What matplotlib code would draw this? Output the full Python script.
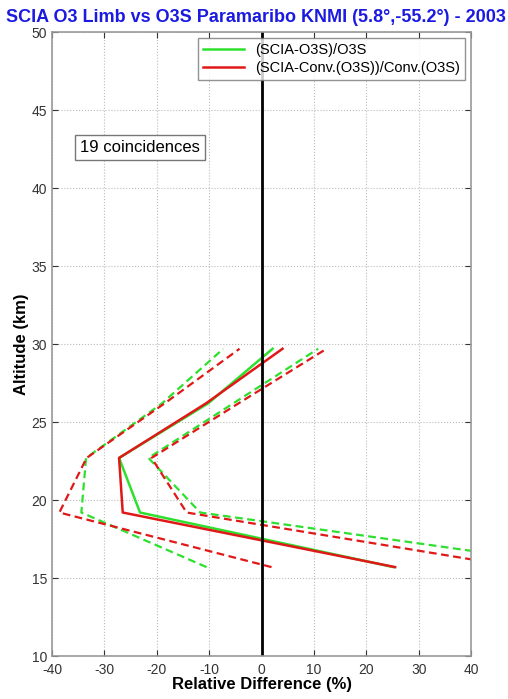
import matplotlib.pyplot as plt

plt.rcParams['font.family'] = ['Liberation Sans', 'DejaVu Sans']
plt.rcParams['axes.unicode_minus'] = False

# altitude levels of the profiles (km)
alt = [15.7, 19.2, 22.7, 26.2, 29.7]

# (SCIA-O3S)/O3S : mean and mean +/- std
green_mean = [25.2, -23.2, -27.2, -10.2, 2.1]
green_low = [-10.5, -34.4, -33.5, -19.0, -7.3]
green_high = [62.0, -11.7, -21.6, -5.4, 10.8]

# (SCIA-Conv.(O3S))/Conv.(O3S)
red_mean = [25.5, -26.5, -27.2, -10.6, 4.0]
red_low = [1.9, -38.6, -33.4, -18.5, -4.2]
red_high = [49.0, -14.3, -21.0, -4.4, 12.4]

green = '#2ee02e'
red = '#e01818'

fig = plt.figure(figsize=(5.08, 6.99), dpi=100)
ax = fig.add_axes([0.1024, 0.0615, 0.825, 0.8925])

ax.plot(green_mean, alt, color=green, lw=1.8, label='(SCIA-O3S)/O3S')
ax.plot(red_mean, alt, color=red, lw=1.8, label='(SCIA-Conv.(O3S))/Conv.(O3S)')
ax.plot(green_low, alt, color=green, lw=1.6, ls=(0, (3.5, 2)))
ax.plot(green_high, alt, color=green, lw=1.6, ls=(0, (3.5, 2)))
ax.plot(red_low, alt, color=red, lw=1.6, ls=(0, (3.5, 2)))
ax.plot(red_high, alt, color=red, lw=1.6, ls=(0, (3.5, 2)))

ax.axvline(0, color='black', lw=2)

ax.set_xlim(-40, 40)
ax.set_ylim(10, 50)
ax.set_xticks(range(-40, 41, 10))
ax.set_yticks(range(10, 51, 5))
ax.grid(True, ls=':', color='#bbbbbb', lw=0.8)
ax.tick_params(direction='in', labelsize=10, colors='#333333', length=4,
               top=True, right=True)
ax.tick_params(axis='x', pad=5)
for s in ax.spines.values():
    s.set_color('#999999')
    s.set_linewidth(1.2)

ax.set_xlabel('Relative Difference (%)', fontsize=12, fontweight='bold', labelpad=0)
ax.set_ylabel('Altitude (km)', fontsize=12, fontweight='bold', labelpad=2)
fig.text(0.503, 0.987, 'SCIA O3 Limb vs O3S Paramaribo KNMI (5.8°,-55.2°) - 2003',
         ha='center', va='top', fontsize=13, fontweight='bold', color='#1a1ae0')

ax.text(-34.6, 42.6, '19 coincidences', fontsize=12, va='center', ha='left',
        bbox=dict(boxstyle='square,pad=0.3', fc='white', ec='#777777'))

leg = ax.legend(loc='upper right', fontsize=10.5, frameon=True, fancybox=False,
                borderaxespad=0.4, handlelength=2.8, labelspacing=0.25,
                borderpad=0.35)
leg.get_frame().set_edgecolor('#777777')

fig.savefig('out.png', dpi=100)
